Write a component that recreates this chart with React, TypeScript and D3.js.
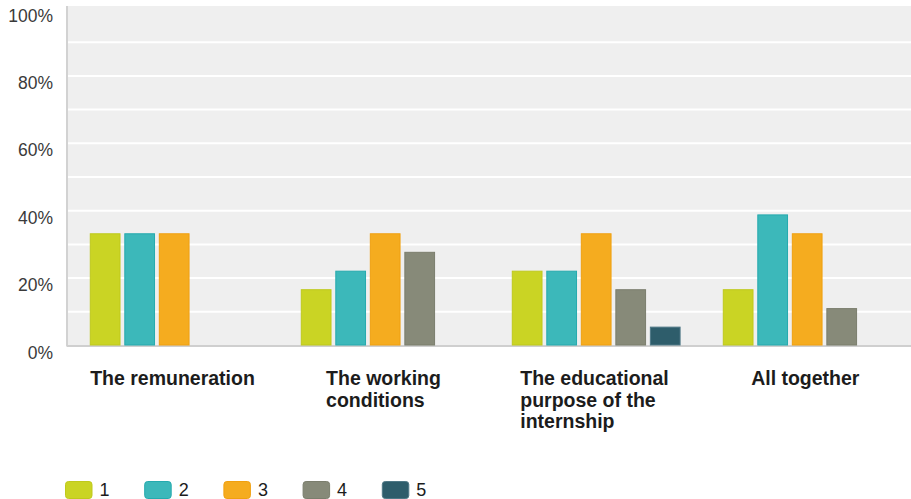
import React, { useEffect, useRef } from "react";
import * as d3 from "d3";

const categories = [
  "The remuneration",
  "The working conditions",
  "The educational purpose of the internship",
  "All together",
];
const categoryLines = [
  ["The remuneration"],
  ["The working", "conditions"],
  ["The educational", "purpose of the", "internship"],
  ["All together"],
];
const seriesNames = ["1", "2", "3", "4", "5"];
const series1 = [33.3, 16.7, 22.2, 16.7];
const series2 = [33.3, 22.2, 22.2, 38.9];
const series3 = [33.3, 33.3, 33.3, 33.3];
const series4 = [0, 27.8, 16.7, 11.1];
const series5 = [0, 0, 5.6, 0];
const allSeries = [series1, series2, series3, series4, series5];
const yTickValues = [0, 20, 40, 60, 80, 100];
const gridValues = [10, 20, 30, 40, 50, 60, 70, 80, 90];

const fills = ["#cad424", "#3cb8ba", "#f5ac1f", "#878a79", "#2e5d6b"];
const strokes = ["#bfc91c", "#25aaae", "#f0a010", "#7b7e6d", "#4f7886"];

const W = 911;
const H = 499;
const L = 67;
const R = 911;
const TOP = 8.5;
const BOTTOM = 345.5;

export default function App() {
  const ref = useRef<SVGSVGElement | null>(null);

  useEffect(() => {
    const svg = d3.select(ref.current);
    svg.selectAll("*").remove();

    const y = d3.scaleLinear().domain([0, 100]).range([BOTTOM, TOP]);
    const x0 = d3.scaleBand<string>().domain(categories).range([L, R]);
    const bw = x0.bandwidth();
    const x1 = d3
      .scaleBand<string>()
      .domain(seriesNames)
      .range([bw * 0.108, bw * 0.908])
      .paddingInner(0.11);

    // background
    svg
      .append("rect")
      .attr("x", L)
      .attr("y", 6)
      .attr("width", R - L)
      .attr("height", BOTTOM - 6)
      .attr("fill", "#efefef");

    // gridlines
    svg
      .selectAll("line.grid")
      .data(gridValues)
      .join("line")
      .attr("class", "grid")
      .attr("x1", L)
      .attr("x2", R)
      .attr("y1", (d) => y(d))
      .attr("y2", (d) => y(d))
      .attr("stroke", "#ffffff")
      .attr("stroke-width", 2);

    // axis lines
    svg
      .append("line")
      .attr("x1", L)
      .attr("x2", L)
      .attr("y1", 6)
      .attr("y2", BOTTOM + 1)
      .attr("stroke", "#d2d2d2")
      .attr("stroke-width", 2);
    svg
      .append("line")
      .attr("x1", L)
      .attr("x2", R)
      .attr("y1", BOTTOM + 0.5)
      .attr("y2", BOTTOM + 0.5)
      .attr("stroke", "#cfcfcf")
      .attr("stroke-width", 2);

    // y tick labels
    svg
      .selectAll("text.ytick")
      .data(yTickValues)
      .join("text")
      .attr("class", "ytick")
      .attr("x", 53)
      .attr("y", (d) => y(d) + 13)
      .attr("text-anchor", "end")
      .attr("font-family", "'Liberation Sans', Arial, sans-serif")
      .attr("font-size", 17.5)
      .attr("fill", "#3a3a3a")
      .text((d) => `${d}%`);

    // bars
    const groups = svg
      .selectAll("g.cat")
      .data(categories)
      .join("g")
      .attr("class", "cat")
      .attr("transform", (d) => `translate(${x0(d)},0)`);

    groups.each(function (cat, ci) {
      const g = d3.select(this);
      const data = seriesNames
        .map((s, si) => ({ s, si, v: allSeries[si][ci] }))
        .filter((d) => d.v > 0);
      g.selectAll("rect")
        .data(data)
        .join("rect")
        .attr("x", (d) => (x1(d.s) as number) + 0.5)
        .attr("y", (d) => y(d.v) + 0.5)
        .attr("width", x1.bandwidth() - 1)
        .attr("height", (d) => BOTTOM - y(d.v) - 1)
        .attr("fill", (d) => fills[d.si])
        .attr("stroke", (d) => strokes[d.si])
        .attr("stroke-width", 1);
    });

    // category labels
    categories.forEach((cat, ci) => {
      const cx = (x0(cat) as number) + bw / 2;
      const t = svg
        .append("text")
        .attr("font-family", "'Liberation Sans', Arial, sans-serif")
        .attr("font-weight", "bold")
        .attr("font-size", 19.5)
        .attr("fill", "#1c1c1c")
        .attr("y", 385);
      categoryLines[ci].forEach((line, li) => {
        t.append("tspan")
          .attr("x", 0)
          .attr("y", 385 + li * 21.6)
          .text(line);
      });
      const node = t.node() as SVGTextElement;
      const w = node.getBBox().width;
      t.attr("transform", `translate(${cx - w / 2},0)`);
    });

    // legend
    const lg = svg
      .selectAll("g.leg")
      .data(seriesNames)
      .join("g")
      .attr("class", "leg")
      .attr("transform", (d, i) => `translate(${65.5 + i * 79.2},0)`);
    lg.append("rect")
      .attr("x", 0)
      .attr("y", 481.5)
      .attr("width", 26.5)
      .attr("height", 17)
      .attr("rx", 3)
      .attr("fill", (d, i) => fills[i])
      .attr("stroke", (d, i) => strokes[i])
      .attr("stroke-width", 1);
    lg.append("text")
      .attr("x", 34)
      .attr("y", 495.5)
      .attr("font-family", "'Liberation Sans', Arial, sans-serif")
      .attr("font-size", 18)
      .attr("fill", "#1c1c1c")
      .text((d) => d);
  }, []);

  return (
    <svg
      ref={ref}
      width={W}
      height={H}
      style={{ position: "absolute", left: 0, top: 0, background: "#ffffff" }}
    />
  );
}
